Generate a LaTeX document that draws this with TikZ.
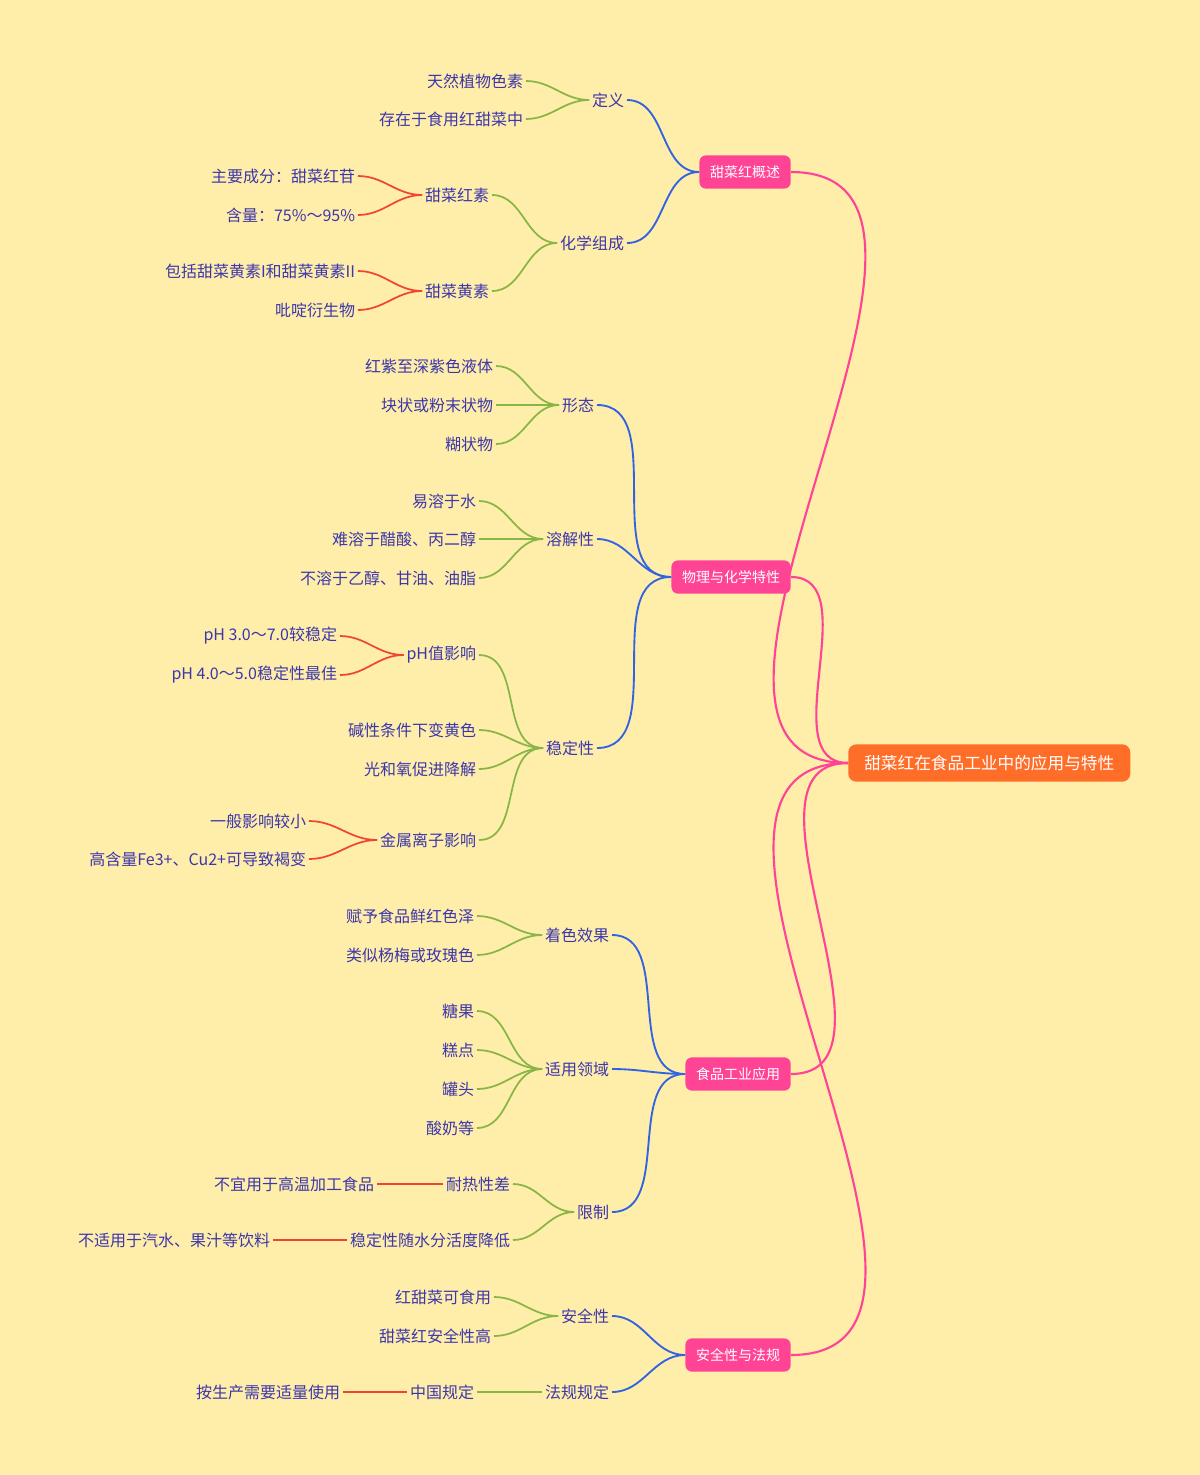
\documentclass[tikz,border=0pt]{standalone}
\usepackage{fontspec}
\setmainfont{Noto Sans CJK SC}
\definecolor{bg}{RGB}{255,237,170}
\definecolor{txt}{RGB}{60,55,170}
\definecolor{rootc}{RGB}{255,110,40}
\definecolor{pinkc}{RGB}{255,68,150}
\definecolor{bluec}{RGB}{50,100,225}
\definecolor{greenc}{RGB}{135,182,70}
\definecolor{redc}{RGB}{238,70,50}
\tikzset{
  leaf/.style={anchor=east, inner sep=2pt, text=txt, font=\fontsize{12}{14}\selectfont},
  main/.style={anchor=east, fill=pinkc, text=white, rounded corners=5pt, minimum height=25pt, inner xsep=8pt, font=\fontsize{10.5}{12}\selectfont},
  rootn/.style={anchor=west, fill=rootc, text=white, rounded corners=6pt, minimum height=28pt, inner xsep=12pt, font=\fontsize{12.5}{14}\selectfont},
  pk/.style={draw=pinkc, line width=1.6pt},
  bl/.style={draw=bluec, line width=1.4pt},
  gr/.style={draw=greenc, line width=1.3pt},
  rd/.style={draw=redc, line width=1.3pt},
}
\begin{document}
\begin{tikzpicture}[x=0.75pt,y=-0.75pt]
\fill[bg] (0,0) rectangle (1200,1475);
\useasboundingbox (0,0) rectangle (1200,1475);
% root and main branches
\node[rootn] (root) at (848,763) {甜菜红在食品工业中的应用与特性};
\node[main] (gs) at (791,172) {甜菜红概述};
\node[main] (wl) at (791,577) {物理与化学特性};
\node[main] (yy) at (791,1074) {食品工业应用};
\node[main] (aq) at (791,1355) {安全性与法规};
% level 2
\node[leaf] (dy) at (627,100) {定义};
\node[leaf] (hx) at (627,243) {化学组成};
\node[leaf] (xt) at (597,405) {形态};
\node[leaf] (rj) at (597,539) {溶解性};
\node[leaf] (wd) at (597,748) {稳定性};
\node[leaf] (zs) at (612,935) {着色效果};
\node[leaf] (ly) at (612,1069) {适用领域};
\node[leaf] (xz) at (612,1212) {限制};
\node[leaf] (aqx) at (612,1316) {安全性};
\node[leaf] (fg) at (612,1392) {法规规定};
% level 3
\node[leaf] (dy1) at (526,81) {天然植物色素};
\node[leaf] (dy2) at (526,119) {存在于食用红甜菜中};
\node[leaf] (hx1) at (492,195) {甜菜红素};
\node[leaf] (hx2) at (492,291) {甜菜黄素};
\node[leaf] (xt1) at (496,366) {红紫至深紫色液体};
\node[leaf] (xt2) at (496,405) {块状或粉末状物};
\node[leaf] (xt3) at (496,444) {糊状物};
\node[leaf] (rj1) at (479,501) {易溶于水};
\node[leaf] (rj2) at (479,539) {难溶于醋酸、丙二醇};
\node[leaf] (rj3) at (479,578) {不溶于乙醇、甘油、油脂};
\node[leaf] (wd1) at (479,655) {pH值影响};
\node[leaf] (wd2) at (479,730) {碱性条件下变黄色};
\node[leaf] (wd3) at (479,769) {光和氧促进降解};
\node[leaf] (wd4) at (479,840) {金属离子影响};
\node[leaf] (zs1) at (477,916) {赋予食品鲜红色泽};
\node[leaf] (zs2) at (477,955) {类似杨梅或玫瑰色};
\node[leaf] (ly1) at (477,1011) {糖果};
\node[leaf] (ly2) at (477,1050) {糕点};
\node[leaf] (ly3) at (477,1089) {罐头};
\node[leaf] (ly4) at (477,1128) {酸奶等};
\node[leaf] (xz1) at (513,1184) {耐热性差};
\node[leaf] (xz2) at (513,1240) {稳定性随水分活度降低};
\node[leaf] (aq1) at (494,1297) {红甜菜可食用};
\node[leaf] (aq2) at (494,1336) {甜菜红安全性高};
\node[leaf] (fg1) at (477,1392) {中国规定};
% level 4
\node[leaf] (hx11) at (358,176) {主要成分：甜菜红苷};
\node[leaf] (hx12) at (358,215) {含量：75\%～95\%};
\node[leaf] (hx21) at (358,271) {包括甜菜黄素I和甜菜黄素II};
\node[leaf] (hx22) at (358,310) {吡啶衍生物};
\node[leaf] (wd11) at (340,636) {pH 3.0～7.0较稳定};
\node[leaf] (wd12) at (340,675) {pH 4.0～5.0稳定性最佳};
\node[leaf] (wd41) at (309,821) {一般影响较小};
\node[leaf] (wd42) at (309,859) {高含量Fe3+、Cu2+可导致褐变};
\node[leaf] (xz11) at (377,1184) {不宜用于高温加工食品};
\node[leaf] (xz21) at (273,1240) {不适用于汽水、果汁等饮料};
\node[leaf] (fg11) at (343,1392) {按生产需要适量使用};
% connectors
\foreach \m in {gs,wl,yy,aq}
  \draw[pk] (root.west) to[out=180,in=0] (\m.east);
\foreach \p/\c in {gs/dy,gs/hx,wl/xt,wl/rj,wl/wd,yy/zs,yy/ly,yy/xz,aq/aqx,aq/fg}
  \draw[bl] (\p.west) to[out=180,in=0] (\c.east);
\foreach \p/\c in {dy/dy1,dy/dy2,hx/hx1,hx/hx2,xt/xt1,xt/xt2,xt/xt3,rj/rj1,rj/rj2,rj/rj3,
  wd/wd1,wd/wd2,wd/wd3,wd/wd4,zs/zs1,zs/zs2,ly/ly1,ly/ly2,ly/ly3,ly/ly4,xz/xz1,xz/xz2,
  aqx/aq1,aqx/aq2,fg/fg1}
  \draw[gr] (\p.west) to[out=180,in=0] (\c.east);
\foreach \p/\c in {hx1/hx11,hx1/hx12,hx2/hx21,hx2/hx22,wd1/wd11,wd1/wd12,wd4/wd41,wd4/wd42,
  xz1/xz11,xz2/xz21,fg1/fg11}
  \draw[rd] (\p.west) to[out=180,in=0] (\c.east);
\end{tikzpicture}
\end{document}
